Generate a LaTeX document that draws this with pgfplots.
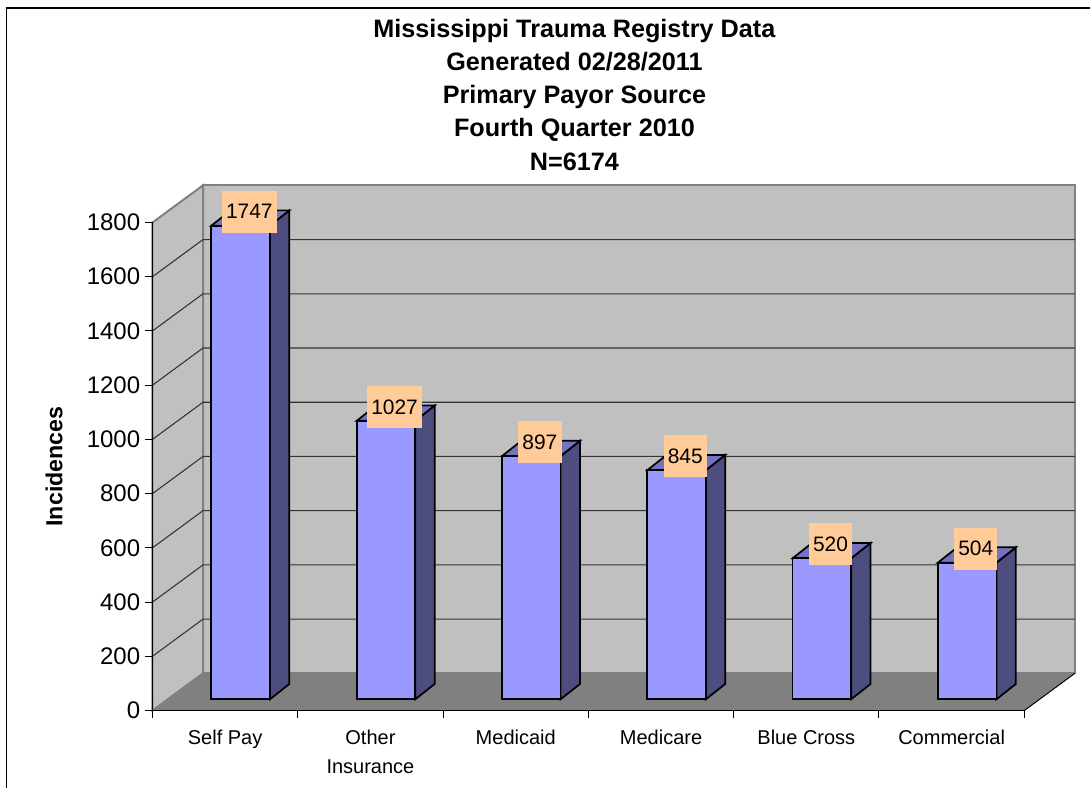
\documentclass[border=0pt]{standalone}
\usepackage{fontspec}
\setmainfont{Liberation Sans}
\usepackage{pgfplots}
\pgfplotsset{compat=1.18}
\definecolor{wall}{HTML}{C0C0C0}
\definecolor{floorc}{HTML}{808080}
\definecolor{barfront}{HTML}{9999FF}
\definecolor{barside}{HTML}{4D4D80}
\definecolor{bartop}{HTML}{7373BF}
\definecolor{lab}{HTML}{FFCC99}
\begin{document}
\begin{tikzpicture}
\path[use as bounding box] (0pt,0pt) rectangle (817.5pt,591pt);
\draw[black,line width=1.1pt] (5pt,0pt) -- (5pt,585pt) -- (817.5pt,585pt);
\begin{axis}[
  at={(114.375pt,58.125pt)},anchor=south west,
  scale only axis,width=653.85pt,height=366pt,
  xmin=0,xmax=6,ymin=0,ymax=1800,
  clip=false,axis on top,
  axis lines*=left,axis line style={-,black,line width=.9pt},
  tick align=outside,major tick length=5.7pt,
  tick style={black,line width=.75pt},
  ytick={0,200,...,1800},
  xtick={0,1,2,3,4,5,6},xticklabels={},
  extra x ticks={0.5,1.5,2.5,3.5,4.5,5.5},
  extra x tick labels={Self Pay,Other\\Insurance,Medicaid,Medicare,Blue Cross,Commercial},
  extra x tick style={major tick length=0pt,
    tick label style={font=\fontsize{15}{21.8}\selectfont,align=center,anchor=north,yshift=-10.75pt}},
  y tick label style={font=\fontsize{18}{21}\selectfont},
  /pgf/number format/assume math mode=true,
  /pgf/number format/1000 sep={},
  ylabel={\textbf{Incidences}},
  y label style={at={(axis description cs:-0.113,0.5)},anchor=center,rotate=0,font=\fontsize{17.4}{21}\selectfont},
  title={\textbf{Mississippi Trauma Registry Data}\\\textbf{Generated 02/28/2011}\\\textbf{Primary Payor Source}\\\textbf{Fourth Quarter 2010}\\\textbf{N=6174}},
  title style={at={(axis description cs:0.484,1.41)},anchor=north,align=center,font=\fontsize{18.9}{24.9}\selectfont},
]
% back wall, side wall, floor
\addplot[fill=wall,draw=floorc,line width=1.5pt,forget plot] coordinates {(0.3476,137)(6.3476,137)(6.3476,1937)(0.3476,1937)} -- cycle;
\addplot[fill=wall,draw=floorc,line width=1.5pt,forget plot] coordinates {(0,0)(0.3476,137)(0.3476,1937)(0,1800)} -- cycle;
\addplot[fill=floorc,draw=floorc,line width=.5pt,forget plot] coordinates {(0,0)(6,0)(6.3476,137)(0.3476,137)} -- cycle;
% gridlines on the walls
\addplot[black!80,line width=.8pt,forget plot] coordinates {(0,200)(0.3476,337)(6.3476,337)};
\addplot[black!80,line width=.8pt,forget plot] coordinates {(0,400)(0.3476,537)(6.3476,537)};
\addplot[black!80,line width=.8pt,forget plot] coordinates {(0,600)(0.3476,737)(6.3476,737)};
\addplot[black!80,line width=.8pt,forget plot] coordinates {(0,800)(0.3476,937)(6.3476,937)};
\addplot[black!80,line width=.8pt,forget plot] coordinates {(0,1000)(0.3476,1137)(6.3476,1137)};
\addplot[black!80,line width=.8pt,forget plot] coordinates {(0,1200)(0.3476,1337)(6.3476,1337)};
\addplot[black!80,line width=.8pt,forget plot] coordinates {(0,1400)(0.3476,1537)(6.3476,1537)};
\addplot[black!80,line width=.8pt,forget plot] coordinates {(0,1600)(0.3476,1737)(6.3476,1737)};
\addplot[black,line width=.7pt,forget plot] coordinates {(6,0)(6.3476,137)};
\end{axis}
\begin{axis}[
  at={(126pt,66.525pt)},anchor=south west,
  scale only axis,width=653.85pt,height=366pt,
  xmin=0,xmax=6,ymin=0,ymax=1800,
  clip=false,hide axis,
  /pgf/number format/1000 sep={},
  /pgf/number format/assume math mode=true,
]
% side faces
\addplot[fill=barside,draw=black,line width=1.3pt,forget plot] coordinates {(0.7016,0)(0.8351,56.4)(0.8351,1803.4)(0.7016,1747)} -- cycle;
\addplot[fill=barside,draw=black,line width=1.3pt,forget plot] coordinates {(1.7016,0)(1.8351,56.4)(1.8351,1083.4)(1.7016,1027)} -- cycle;
\addplot[fill=barside,draw=black,line width=1.3pt,forget plot] coordinates {(2.7016,0)(2.8351,56.4)(2.8351,953.4)(2.7016,897)} -- cycle;
\addplot[fill=barside,draw=black,line width=1.3pt,forget plot] coordinates {(3.7016,0)(3.8351,56.4)(3.8351,901.4)(3.7016,845)} -- cycle;
\addplot[fill=barside,draw=black,line width=1.3pt,forget plot] coordinates {(4.7016,0)(4.8351,56.4)(4.8351,576.4)(4.7016,520)} -- cycle;
\addplot[fill=barside,draw=black,line width=1.3pt,forget plot] coordinates {(5.7016,0)(5.8351,56.4)(5.8351,560.4)(5.7016,504)} -- cycle;
% top faces
\addplot[fill=bartop,draw=black,line width=1.3pt,forget plot] coordinates {(0.2984,1747)(0.7016,1747)(0.8351,1803.4)(0.4319,1803.4)} -- cycle;
\addplot[fill=bartop,draw=black,line width=1.3pt,forget plot] coordinates {(1.2984,1027)(1.7016,1027)(1.8351,1083.4)(1.4319,1083.4)} -- cycle;
\addplot[fill=bartop,draw=black,line width=1.3pt,forget plot] coordinates {(2.2984,897)(2.7016,897)(2.8351,953.4)(2.4319,953.4)} -- cycle;
\addplot[fill=bartop,draw=black,line width=1.3pt,forget plot] coordinates {(3.2984,845)(3.7016,845)(3.8351,901.4)(3.4319,901.4)} -- cycle;
\addplot[fill=bartop,draw=black,line width=1.3pt,forget plot] coordinates {(4.2984,520)(4.7016,520)(4.8351,576.4)(4.4319,576.4)} -- cycle;
\addplot[fill=bartop,draw=black,line width=1.3pt,forget plot] coordinates {(5.2984,504)(5.7016,504)(5.8351,560.4)(5.4319,560.4)} -- cycle;
% front faces with the values
\addplot[ybar,bar shift=0pt,bar width=43.95pt,fill=barfront,draw=black,line width=1.3pt,
  nodes near coords,
  nodes near coords style={anchor=center,xshift=6.5pt,yshift=10.5pt,fill=lab,text=black,
    font=\fontsize{15.7}{19}\selectfont,inner xsep=3.15pt,inner ysep=0pt,minimum height=31.7pt},
] coordinates {(0.5,1747)(1.5,1027)(2.5,897)(3.5,845)(4.5,520)(5.5,504)};
\end{axis}
\end{tikzpicture}
\end{document}
